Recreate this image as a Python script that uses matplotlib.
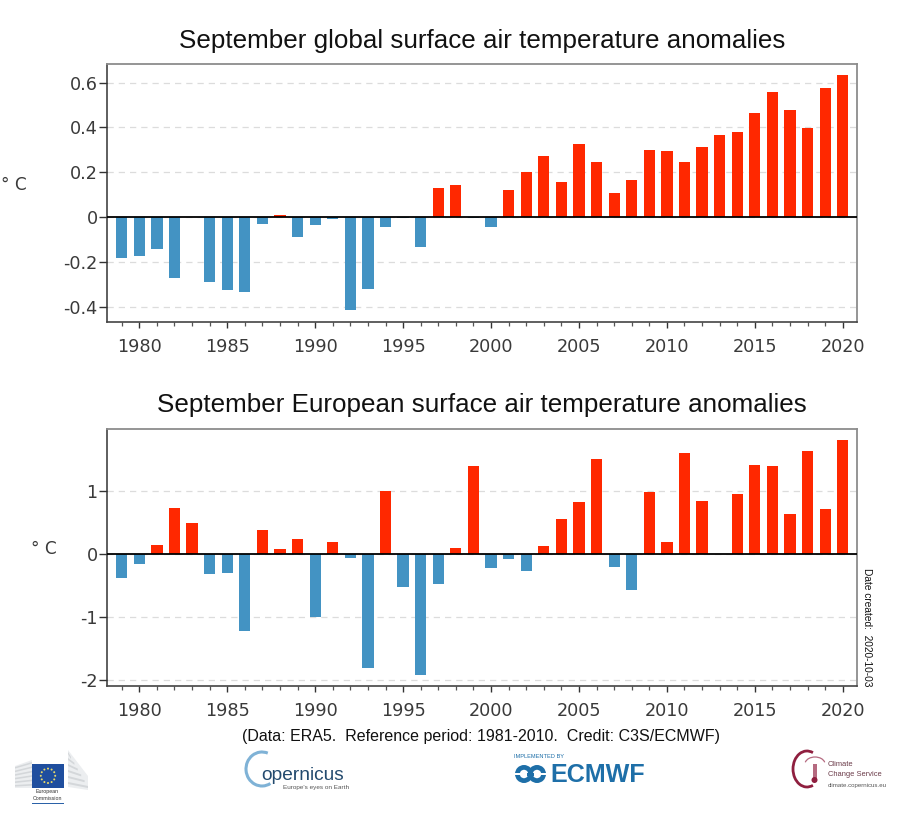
import numpy as np
import matplotlib
matplotlib.use("Agg")
import matplotlib.pyplot as plt
from matplotlib.patches import Rectangle, Arc, Circle, Polygon

years = list(range(1979, 2021))
global_anom = [-0.182, -0.174, -0.141, -0.271, -0.001, -0.292, -0.326, -0.333, -0.030, 0.009,
               -0.089, -0.036, -0.009, -0.415, -0.322, -0.045, -0.004, -0.134, 0.131, 0.144,
               -0.005, -0.043, 0.119, 0.202, 0.271, 0.156, 0.326, 0.244, 0.107, 0.167,
               0.301, 0.295, 0.244, 0.311, 0.366, 0.381, 0.466, 0.557, 0.476, 0.397,
               0.576, 0.633]
europe_anom = [-0.376, -0.148, 0.154, 0.737, 0.503, -0.307, -0.291, -1.219, 0.382, 0.080,
               0.238, -0.991, 0.191, -0.064, -1.812, 1.007, -0.525, -1.913, -0.466, 0.095,
               1.404, -0.217, -0.074, -0.260, 0.132, 0.562, 0.832, 1.510, -0.201, -0.572,
               0.996, 0.196, 1.616, 0.848, 0.000, 0.954, 1.420, 1.404, 0.636, 1.643,
               0.726, 1.812]
global_ticks = [-0.4, -0.2, 0, 0.2, 0.4, 0.6]
global_ticklabels = ['-0.4', '-0.2', '0', '0.2', '0.4', '0.6']
europe_ticks = [-2, -1, 0, 1]
europe_ticklabels = ['-2', '-1', '0', '1']
year_ticks = list(range(1980, 2021, 5))
title_global = 'September global surface air temperature anomalies'
title_europe = 'September European surface air temperature anomalies'
footer = '(Data: ERA5.  Reference period: 1981-2010.  Credit: C3S/ECMWF)'
date_note = 'Date created:  2020-10-03'

W, H = 900, 815
RED, BLUE = '#ff2800', '#4393c3'
SANS = 'Liberation Sans'
TICKCOL = '#3a3a3a'

fig = plt.figure(figsize=(W / 100, H / 100), dpi=100, facecolor='white')


def make_axes(l, r, t, b):
    return fig.add_axes([l / W, 1 - b / H, (r - l) / W, (b - t) / H])


def panel(ax, values, ylim, ticks, labels):
    colors = [RED if v > 0 else BLUE for v in values]
    ax.bar(years, values, width=0.64, color=colors, linewidth=0, zorder=2)
    ax.axhline(0, color='black', lw=1.3, zorder=3)
    ax.set_xlim(1978.18, 2020.81)
    ax.set_ylim(*ylim)
    ax.set_yticks(ticks)
    ax.set_yticklabels(labels)
    ax.set_xticks(year_ticks)
    ax.set_xticks(years, minor=True)
    ax.yaxis.grid(True, color='#dcdcdc', lw=0.9, ls=(0, (5, 4)), zorder=1)
    ax.set_axisbelow(True)
    ax.tick_params(axis='y', which='major', labelsize=12.7, labelcolor=TICKCOL,
                   color='#333333', length=5.5, width=1, pad=1.5)
    ax.tick_params(axis='x', which='major', labelsize=12.7, labelcolor=TICKCOL,
                   color='#333333', length=4.6, width=1, pad=7)
    ax.tick_params(axis='x', which='minor', color='#555555', length=2.6, width=0.9)
    for name, col, lw in [('left', '#333333', 1.1), ('bottom', '#444444', 1.2),
                          ('top', '#8c8c8c', 1.3), ('right', '#8c8c8c', 1.3)]:
        ax.spines[name].set_color(col)
        ax.spines[name].set_linewidth(lw)


ax1 = make_axes(107.3, 857, 64.3, 321.7)
panel(ax1, global_anom, (-0.467, 0.682), global_ticks, global_ticklabels)
ax2 = make_axes(107.3, 857, 428.7, 686)
panel(ax2, europe_anom, (-2.094, 1.997), europe_ticks, europe_ticklabels)

# overlay in pixel coordinates for texts and logos
ov = fig.add_axes([0, 0, 1, 1], zorder=5)
ov.set_xlim(0, W)
ov.set_ylim(H, 0)
ov.axis('off')

ov.text(482, 41, title_global, ha='center', va='center', family=SANS, fontsize=18.75, color='#111111')
ov.text(482, 405, title_europe, ha='center', va='center', family=SANS, fontsize=18.75, color='#111111')
ov.text(1, 185, '° C', ha='left', va='center', fontsize=12.2, color=TICKCOL)
ov.text(44, 549, '° C', ha='center', va='center', fontsize=12.2, color=TICKCOL)
ov.text(481, 736, footer, ha='center', va='center', family=SANS, fontsize=11.5, color='#111111')
ov.text(867, 627.5, date_note, ha='center', va='center', rotation=270, family=SANS, fontsize=7.25, color='#111111')

# EU logo
GREY = '#d4d7da'
LIGHT = '#eceef0'
ov.add_patch(Polygon([(15, 766), (32, 760), (32, 788), (15, 788)], color=LIGHT, lw=0))
ov.add_patch(Polygon([(68, 750), (88, 776), (88, 790), (68, 787)], color=LIGHT, lw=0))
for i in range(6):
    ov.add_patch(Polygon([(15, 767 + i * 3.6), (32, 762 + i * 4.4), (32, 763.6 + i * 4.4), (15, 768.6 + i * 3.6)],
                         color=GREY, lw=0))
    ov.add_patch(Polygon([(68, 752 + i * 6), (71 + i * 3.4, 757 + i * 5.8), (71 + i * 3.4, 759 + i * 5.8), (68, 754 + i * 6)],
                         color=GREY, lw=0))
ov.add_patch(Rectangle((31.7, 764), 32.6, 23.7, color='#1f4e9e', lw=0))
for a in np.arange(0, 360, 30):
    ov.add_patch(Circle((48 + 7.2 * np.cos(np.radians(a)), 775.8 + 7.2 * np.sin(np.radians(a))), 1.0,
                        color='#e8d96a', lw=0))
ov.text(47.5, 791, 'European', ha='center', va='center', family=SANS, fontsize=3.8, color='#333333')
ov.text(47.5, 798, 'Commission', ha='center', va='center', family=SANS, fontsize=3.8, color='#333333')
ov.add_patch(Rectangle((31.7, 802.5), 32.6, 1.8, color='#2b62a8', lw=0))

# Copernicus logo
ov.add_patch(Arc((262, 769), 32, 34, theta1=60, theta2=290, color='#7fb2d6', lw=2.2))
ov.text(303, 775, 'opernicus', ha='center', va='center', family=SANS, fontsize=13.8, color='#234a6e')
ov.text(316, 787, "Europe's eyes on Earth", ha='center', va='center', family=SANS, fontsize=4.6, color='#555555')

# ECMWF logo
NAVY = '#1e6fa8'
ov.text(514, 757, 'IMPLEMENTED BY', ha='left', va='center', family=SANS, fontsize=4.05, color=NAVY)
for cx in (524, 537):
    ov.add_patch(Circle((cx, 774), 9, color=NAVY, lw=0))
    ov.add_patch(Circle((cx, 774), 4.2, color='white', lw=0))
ov.add_patch(Rectangle((527, 772.5), 7, 3, color=NAVY, lw=0))
ov.add_patch(Rectangle((515, 772.8), 5, 2.4, color='white', lw=0))
ov.add_patch(Rectangle((541, 772.8), 6, 2.4, color='white', lw=0))
ov.text(598, 775, 'ECMWF', ha='center', va='center', family=SANS, weight='bold', fontsize=18.1, color=NAVY)

# Climate Change Service logo
WINE = '#8f1f3f'
ov.add_patch(Arc((807, 769), 28, 36, theta1=70, theta2=290, color=WINE, lw=2))
ov.add_patch(Arc((815, 764), 20, 14, theta1=190, theta2=350, color='#b56a80', lw=0.9))
ov.add_patch(Rectangle((812.5, 764), 4, 16, color='#b56a80', lw=0))
ov.add_patch(Circle((814.5, 780), 3, color=WINE, lw=0))
ov.text(828, 765, 'Climate', ha='left', va='center', family=SANS, fontsize=5.4, color='#6a3a48')
ov.text(828, 774, 'Change Service', ha='left', va='center', family=SANS, fontsize=5.4, color='#6a3a48')
ov.text(828, 786, 'climate.copernicus.eu', ha='left', va='center', family=SANS, fontsize=4.4, color='#555555')

fig.savefig('out.png', dpi=100, facecolor='white')
